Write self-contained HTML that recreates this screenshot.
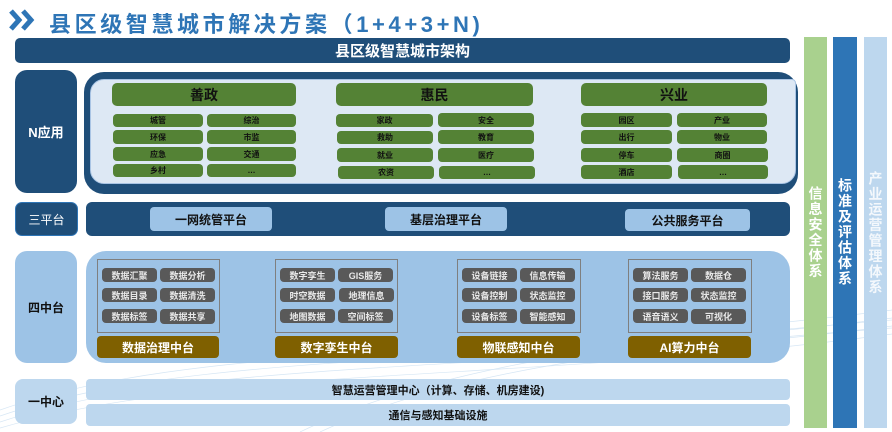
<!DOCTYPE html>
<html><head><meta charset="utf-8">
<style>
*{margin:0;padding:0;box-sizing:border-box}
body{width:892px;height:432px;background:#fff;position:relative;overflow:hidden;font-family:"Liberation Sans","Noto Sans CJK SC",sans-serif}
.a{position:absolute}
.c{display:flex;align-items:center;justify-content:center;text-align:center;white-space:nowrap}
.dk{background:#1f4e79;color:#fff;font-weight:bold}
.gh{background:#548235;border-radius:5px;color:#111;font-weight:bold;font-size:14px}
.gc{background:#548235;border-radius:4px;color:#111;font-size:8px;font-weight:bold}
.pl{background:#9dc3e6;border-radius:4px;color:#111;font-size:12px;font-weight:bold}
.grp{border:1px solid #7f7f7f}
.ch{background:#595959;border-radius:4px;color:#e8e8e8;font-size:9px;font-weight:bold}
.lb{background:#7f6000;border-radius:4px;color:#fff;font-size:12px;font-weight:bold}
.bar{background:#bdd7ee;border-radius:4px;color:#111;font-size:11px;font-weight:bold}
.vt{writing-mode:vertical-rl;text-orientation:upright;color:#fff;font-weight:bold;font-size:14px;letter-spacing:1.5px}
</style></head><body>

<svg class="a" style="left:0;top:300px" width="892" height="132">
<g fill="none" stroke="#c5dcf0" stroke-width="0.7" opacity="0.7">
<path d="M0 110 C200 40 500 60 892 10"/>
<path d="M0 116 C200 48 500 68 892 18"/>
<path d="M0 122 C200 56 500 76 892 26"/>
<path d="M0 128 C220 64 520 84 892 34"/>
<path d="M300 132 C450 60 650 40 892 20"/>
<path d="M320 132 C460 66 660 46 892 28"/>
</g></svg>

<svg class="a" style="left:8px;top:9px" width="30" height="24">
<polyline points="3,2 11,11 3,20" fill="none" stroke="#2e75b6" stroke-width="5"/>
<polyline points="15,2 23,11 15,20" fill="none" stroke="#2e75b6" stroke-width="5"/>
</svg>
<div class="a" style="left:49px;top:7px;font-size:22px;font-weight:bold;color:#2e75b6;letter-spacing:3.6px;white-space:nowrap">县区级智慧城市解决方案（1+4+3+N)</div>

<div class="a c dk" style="left:15px;top:38px;width:775px;height:25px;border-radius:5px;font-size:15px">县区级智慧城市架构</div>

<!-- N应用 -->
<div class="a c dk" style="left:15px;top:70px;width:62px;height:123px;border-radius:12px;font-size:13px">N应用</div>
<div class="a" style="left:84px;top:72px;width:714px;height:122px;background:#1f4e79;border-radius:20px"></div>
<div class="a" style="left:90px;top:79px;width:706px;height:105px;background:#dde8f4;border:1px solid #a9c4e4;border-radius:14px 4px 14px 14px"></div>

<div class="a c gh" style="left:112px;top:83px;width:184px;height:23px">善政</div>
<div class="a c gc" style="left:113px;top:114px;width:90px;height:13px">城管</div>
<div class="a c gc" style="left:207px;top:114px;width:89px;height:13px">综治</div>
<div class="a c gc" style="left:113px;top:130px;width:90px;height:14px">环保</div>
<div class="a c gc" style="left:207px;top:130px;width:89px;height:14px">市监</div>
<div class="a c gc" style="left:113px;top:147px;width:90px;height:14px">应急</div>
<div class="a c gc" style="left:207px;top:147px;width:89px;height:14px">交通</div>
<div class="a c gc" style="left:113px;top:164px;width:90px;height:13px">乡村</div>
<div class="a c gc" style="left:207px;top:164px;width:89px;height:13px">…</div>

<div class="a c gh" style="left:336px;top:83px;width:197px;height:23px">惠民</div>
<div class="a c gc" style="left:336px;top:114px;width:97px;height:13px">家政</div>
<div class="a c gc" style="left:438px;top:113px;width:96px;height:14px">安全</div>
<div class="a c gc" style="left:337px;top:131px;width:96px;height:13px">救助</div>
<div class="a c gc" style="left:438px;top:130px;width:96px;height:14px">教育</div>
<div class="a c gc" style="left:337px;top:148px;width:96px;height:14px">就业</div>
<div class="a c gc" style="left:438px;top:148px;width:96px;height:14px">医疗</div>
<div class="a c gc" style="left:338px;top:166px;width:96px;height:13px">农资</div>
<div class="a c gc" style="left:439px;top:166px;width:96px;height:13px">…</div>

<div class="a c gh" style="left:581px;top:83px;width:186px;height:23px">兴业</div>
<div class="a c gc" style="left:581px;top:113px;width:91px;height:14px">园区</div>
<div class="a c gc" style="left:677px;top:113px;width:90px;height:14px">产业</div>
<div class="a c gc" style="left:581px;top:130px;width:91px;height:14px">出行</div>
<div class="a c gc" style="left:677px;top:130px;width:90px;height:14px">物业</div>
<div class="a c gc" style="left:581px;top:148px;width:91px;height:14px">停车</div>
<div class="a c gc" style="left:677px;top:148px;width:91px;height:14px">商圈</div>
<div class="a c gc" style="left:581px;top:165px;width:91px;height:14px">酒店</div>
<div class="a c gc" style="left:678px;top:165px;width:90px;height:14px">…</div>

<!-- 三平台 -->
<div class="a c dk" style="left:15px;top:202px;width:63px;height:34px;border-radius:7px;border:1px solid #2e75b6;font-size:12px;font-weight:normal">三平台</div>
<div class="a" style="left:86px;top:202px;width:704px;height:34px;background:#1f4e79;border-radius:6px"></div>
<div class="a c pl" style="left:150px;top:207px;width:122px;height:24px">一网统管平台</div>
<div class="a c pl" style="left:385px;top:207px;width:122px;height:24px">基层治理平台</div>
<div class="a c pl" style="left:625px;top:209px;width:125px;height:22px">公共服务平台</div>

<!-- 四中台 -->
<div class="a c" style="left:15px;top:251px;width:62px;height:112px;background:#9dc3e6;border-radius:12px;font-size:12px;font-weight:bold;color:#111">四中台</div>
<div class="a" style="left:86px;top:251px;width:704px;height:112px;background:#9dc3e6;border-radius:20px"></div>

<div class="a grp" style="left:97px;top:259px;width:123px;height:74px"></div>
<div class="a c ch" style="left:102px;top:268px;width:55px;height:14px">数据汇聚</div>
<div class="a c ch" style="left:160px;top:268px;width:55px;height:14px">数据分析</div>
<div class="a c ch" style="left:102px;top:288px;width:55px;height:14px">数据目录</div>
<div class="a c ch" style="left:160px;top:288px;width:55px;height:14px">数据清洗</div>
<div class="a c ch" style="left:102px;top:309px;width:55px;height:14px">数据标签</div>
<div class="a c ch" style="left:160px;top:309px;width:55px;height:15px">数据共享</div>
<div class="a c lb" style="left:97px;top:336px;width:122px;height:22px">数据治理中台</div>

<div class="a grp" style="left:275px;top:259px;width:123px;height:74px"></div>
<div class="a c ch" style="left:280px;top:268px;width:55px;height:14px">数字孪生</div>
<div class="a c ch" style="left:338px;top:268px;width:55px;height:14px">GIS服务</div>
<div class="a c ch" style="left:280px;top:288px;width:55px;height:14px">时空数据</div>
<div class="a c ch" style="left:339px;top:288px;width:55px;height:14px">地理信息</div>
<div class="a c ch" style="left:280px;top:309px;width:55px;height:14px">地图数据</div>
<div class="a c ch" style="left:338px;top:309px;width:55px;height:14px">空间标签</div>
<div class="a c lb" style="left:275px;top:336px;width:123px;height:22px">数字孪生中台</div>

<div class="a grp" style="left:457px;top:259px;width:124px;height:74px"></div>
<div class="a c ch" style="left:462px;top:268px;width:55px;height:14px">设备链接</div>
<div class="a c ch" style="left:520px;top:268px;width:55px;height:14px">信息传输</div>
<div class="a c ch" style="left:462px;top:288px;width:55px;height:14px">设备控制</div>
<div class="a c ch" style="left:520px;top:288px;width:55px;height:14px">状态监控</div>
<div class="a c ch" style="left:462px;top:309px;width:55px;height:14px">设备标签</div>
<div class="a c ch" style="left:520px;top:309px;width:55px;height:15px">智能感知</div>
<div class="a c lb" style="left:457px;top:336px;width:123px;height:22px">物联感知中台</div>

<div class="a grp" style="left:628px;top:259px;width:124px;height:74px"></div>
<div class="a c ch" style="left:633px;top:268px;width:55px;height:14px">算法服务</div>
<div class="a c ch" style="left:691px;top:268px;width:55px;height:14px">数据仓</div>
<div class="a c ch" style="left:633px;top:288px;width:55px;height:14px">接口服务</div>
<div class="a c ch" style="left:691px;top:288px;width:55px;height:14px">状态监控</div>
<div class="a c ch" style="left:633px;top:309px;width:55px;height:14px">语音语义</div>
<div class="a c ch" style="left:691px;top:309px;width:55px;height:15px">可视化</div>
<div class="a c lb" style="left:628px;top:336px;width:123px;height:22px">AI算力中台</div>

<!-- 一中心 -->
<div class="a c" style="left:15px;top:379px;width:62px;height:45px;background:#bdd7ee;border-radius:8px;font-size:12px;font-weight:bold;color:#111">一中心</div>
<div class="a c bar" style="left:86px;top:379px;width:704px;height:21px">智慧运营管理中心（计算、存储、机房建设)</div>
<div class="a c bar" style="left:86px;top:404px;width:704px;height:22px">通信与感知基础设施</div>

<!-- right columns -->
<div class="a c" style="left:804px;top:37px;width:23px;height:391px;background:#a9d18e"><span class="vt">信息安全体系</span></div>
<div class="a c" style="left:833px;top:37px;width:24px;height:391px;background:#2e75b6"><span class="vt">标准及评估体系</span></div>
<div class="a c" style="left:864px;top:37px;width:23px;height:391px;background:#bdd7ee"><span class="vt" style="color:#f4f8fc">产业运营管理体系</span></div>

</body></html>
